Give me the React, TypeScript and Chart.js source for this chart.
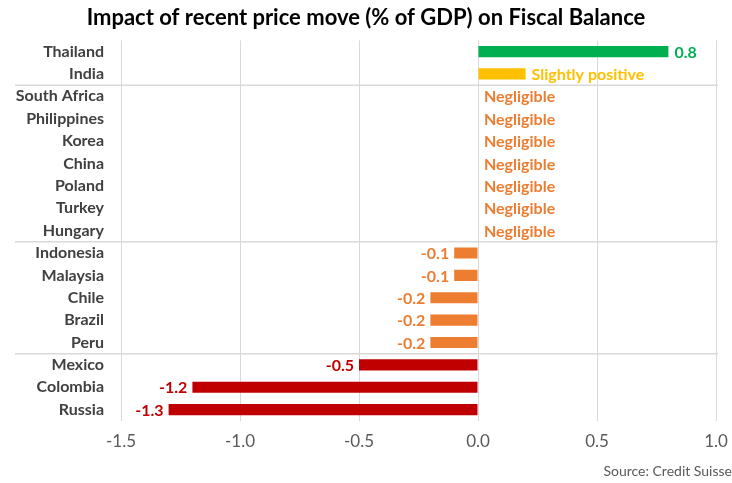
import React, { useEffect, useRef } from "react";
import { Chart, registerables } from "chart.js";

Chart.register(...registerables);

const countries = [
  "Thailand", "India", "South Africa", "Philippines", "Korea", "China", "Poland", "Turkey", "Hungary",
  "Indonesia", "Malaysia", "Chile", "Brazil", "Peru", "Mexico", "Colombia", "Russia",
];
const values = [0.8, 0.2, 0, 0, 0, 0, 0, 0, 0, -0.1, -0.1, -0.2, -0.2, -0.2, -0.5, -1.2, -1.3];
const valueLabels = [
  "0.8", "Slightly positive", "Negligible", "Negligible", "Negligible", "Negligible", "Negligible",
  "Negligible", "Negligible", "-0.1", "-0.1", "-0.2", "-0.2", "-0.2", "-0.5", "-1.2", "-1.3",
];
const GREEN = "#00B050";
const YELLOW = "#FFC000";
const ORANGE = "#ED7D31";
const RED = "#C00000";
const barColors = [GREEN, YELLOW, ORANGE, ORANGE, ORANGE, ORANGE, ORANGE, ORANGE, ORANGE, ORANGE, ORANGE, ORANGE, ORANGE, ORANGE, RED, RED, RED];
const groupBreaks = [2, 9, 14];
const xMin = -1.5;
const xMax = 1.0;
const xStep = 0.5;

const FONT = "Lato, 'Noto Sans', sans-serif";

const overlayPlugin = {
  id: "overlay",
  afterDatasetsDraw(chart: any) {
    const ctx = chart.ctx;
    const yScale = chart.scales.y;
    ctx.save();
    ctx.strokeStyle = "#d9d9d9";
    ctx.lineWidth = 1.5;
    groupBreaks.forEach((b) => {
      const y = (yScale.getPixelForValue(b - 1) + yScale.getPixelForValue(b)) / 2;
      ctx.beginPath();
      ctx.moveTo(15, y);
      ctx.lineTo(718, y);
      ctx.stroke();
    });
    const meta = chart.getDatasetMeta(0);
    ctx.font = `bold 16px ${FONT}`;
    ctx.textBaseline = "middle";
    meta.data.forEach((bar: any, i: number) => {
      ctx.fillStyle = barColors[i];
      if (values[i] >= 0) {
        ctx.textAlign = "left";
        ctx.fillText(valueLabels[i], bar.x + 6, bar.y + 1);
      } else {
        ctx.textAlign = "right";
        ctx.fillText(valueLabels[i], bar.x - 5, bar.y + 1);
      }
    });
    ctx.restore();
  },
};

export default function App() {
  const ref = useRef<HTMLCanvasElement | null>(null);
  useEffect(() => {
    if (!ref.current) return;
    const chart = new Chart(ref.current, {
      type: "bar",
      data: {
        labels: countries,
        datasets: [
          {
            data: values,
            backgroundColor: barColors,
            borderWidth: 0,
            categoryPercentage: 1,
            barPercentage: 0.5,
          },
        ],
      },
      options: {
        indexAxis: "y",
        animation: false,
        responsive: false,
        maintainAspectRatio: false,
        layout: { padding: { left: 0, right: 0, top: 0, bottom: 0 } },
        plugins: {
          legend: { display: false },
          tooltip: { enabled: false },
          title: {
            display: true,
            text: "Impact of recent price move (% of GDP) on Fiscal Balance",
            color: "#000000",
            font: { family: FONT, size: 22, weight: "bold" },
            padding: { top: 5, bottom: 9 },
          },
          subtitle: {
            display: true,
            position: "bottom",
            align: "end",
            text: "Source: Credit Suisse",
            color: "#595959",
            font: { family: FONT, size: 14 },
            padding: { top: 0, bottom: 3 },
          },
        },
        scales: {
          x: {
            min: xMin,
            max: xMax,
            grid: { color: "#d9d9d9", drawTicks: false },
            border: { display: false },
            afterFit: (scale: any) => {
              scale.paddingRight = 16;
            },
            ticks: {
              stepSize: xStep,
              padding: 11,
              color: "#595959",
              font: { family: FONT, size: 17 },
              callback: (v: any) => Number(v).toFixed(1),
            },
          },
          y: {
            grid: { display: false, drawTicks: false },
            border: { display: false },
            afterFit: (scale: any) => {
              scale.width = 121;
            },
            ticks: {
              padding: 17,
              color: "#404040",
              font: { family: FONT, size: 16, weight: "bold" },
              autoSkip: false,
            },
          },
        },
      },
      plugins: [overlayPlugin],
    });
    return () => chart.destroy();
  }, []);
  return (
    <div style={{ position: "fixed", left: 0, top: 0, width: 732, height: 483, background: "#fff" }}>
      <canvas ref={ref} width={732} height={483} style={{ width: 732, height: 483 }} />
    </div>
  );
}
